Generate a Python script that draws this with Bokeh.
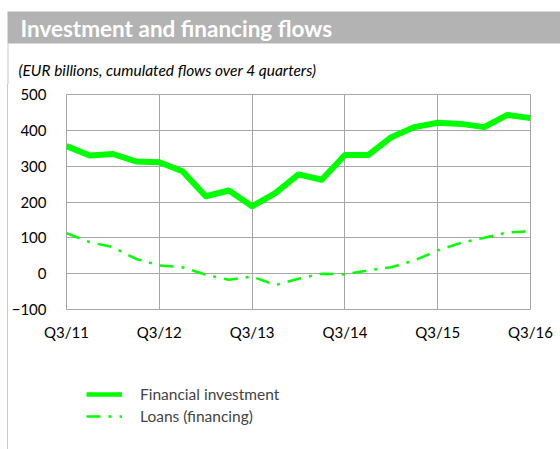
from bokeh.plotting import figure
from bokeh.layouts import column
from bokeh.models import FixedTicker, BoxAnnotation, Label, Legend, LegendItem, Range1d
from bokeh.embed import file_html
from bokeh.resources import INLINE

quarters = list(range(21))
quarter_labels = ["Q3/11", "Q3/12", "Q3/13", "Q3/14", "Q3/15", "Q3/16"]
financial_investment = [356, 330, 334, 313, 311, 286, 216, 232, 188, 225, 277,
                        262, 331, 331, 381, 409, 421, 418, 409, 443, 434]
loans = [113, 88, 74, 41, 23, 18, -3, -17, -8, -32, -14,
         0, -2, 9, 18, 37, 65, 86, 100, 115, 118]
y_ticks = [-100, 0, 100, 200, 300, 400, 500]
series_names = ["Financial investment", "Loans (financing)"]

FONT = "Lato"
GREEN = "#00ff00"
GRID = "#a6a6a6"
EDGE = "#c8c8c8"
DASH = "14 8 3 8"
W = 552
INDENT = 8


def blank(width, height):
    f = figure(width=width, height=height, output_backend="svg", toolbar_location=None,
               x_range=Range1d(0, width), y_range=Range1d(0, height),
               x_axis_location=None, y_axis_location=None,
               min_border=0, min_border_left=0, min_border_right=0,
               min_border_top=0, min_border_bottom=0)
    f.frame_align = False
    f.grid.visible = False
    f.outline_line_color = None
    f.background_fill_color = "white"
    f.border_fill_color = "white"
    return f


# ---------- header ----------
HA = 84
head = blank(W + INDENT, HA)
head.add_layout(BoxAnnotation(left=7, right=W + INDENT, bottom=HA - 43, top=HA - 11,
                              fill_color="#b3b3b3", fill_alpha=1, line_color=None))
head.add_layout(BoxAnnotation(left=7, right=8, bottom=0, top=HA - 43,
                              fill_color=EDGE, fill_alpha=1, line_color=None))
head.add_layout(Label(x=20, y=HA - 28, text="Investment and financing flows",
                      text_font=FONT, text_font_style="bold", text_font_size="22.5px",
                      text_color="white", text_baseline="middle"))
head.add_layout(Label(x=18, y=HA - 69, text="(EUR billions, cumulated flows over 4 quarters)",
                      text_font=FONT, text_font_style="italic", text_font_size="15.5px",
                      text_color="black", text_baseline="middle"))

# ---------- chart ----------
p = figure(width=W, height=265, output_backend="svg", toolbar_location=None,
           x_range=Range1d(0, 20), y_range=Range1d(-100, 500),
           min_border_left=50, min_border_right=30, min_border_top=10, min_border_bottom=40)
p.frame_align = False
p.margin = (0, 0, 0, INDENT)
p.background_fill_color = "white"
p.border_fill_color = "white"
p.outline_line_color = GRID
p.outline_line_width = 1
p.styles = {"box-shadow": "-1px 0 0 " + EDGE}

p.line(quarters, financial_investment, line_color=GREEN, line_width=6, line_join="round")
p.line(quarters, loans, line_color=GREEN, line_width=2.5, line_dash=DASH)

grid_ticks = [4 * k for k in range(len(quarter_labels))]
p.xgrid.ticker = FixedTicker(ticks=grid_ticks)
p.ygrid.ticker = FixedTicker(ticks=y_ticks)
for g in (p.xgrid, p.ygrid):
    g.grid_line_color = GRID
    g.grid_line_width = 1

p.xaxis.ticker = FixedTicker(ticks=grid_ticks)
p.xaxis.major_label_overrides = {t: lab for t, lab in zip(grid_ticks, quarter_labels)}
p.yaxis.ticker = FixedTicker(ticks=y_ticks)
for ax in (p.xaxis, p.yaxis):
    ax.axis_line_color = None
    ax.major_tick_line_color = None
    ax.minor_tick_line_color = None
    ax.major_label_text_font = FONT
    ax.major_label_text_font_size = "15px"
    ax.major_label_text_color = "black"
p.xaxis.major_label_standoff = 7
p.yaxis.major_label_standoff = 14

# ---------- legend ----------
HL = 100
leg = blank(W, HL)
leg.margin = (0, 0, 0, INDENT)
leg.styles = {"box-shadow": "-1px 0 0 " + EDGE}
leg.extra_y_ranges = {"hidden": Range1d(10000, 10001)}
g1 = leg.line(quarters, financial_investment, y_range_name="hidden",
              line_color=GREEN, line_width=4.5)
g2 = leg.line(quarters, loans, y_range_name="hidden",
              line_color=GREEN, line_width=2.5, line_dash=DASH)
legend = Legend(items=[LegendItem(label=series_names[0], renderers=[g1]),
                       LegendItem(label=series_names[1], renderers=[g2])],
                location=(78, 24), orientation="vertical",
                background_fill_alpha=0, border_line_color=None,
                label_text_font=FONT, label_text_font_size="15.5px",
                glyph_width=36, glyph_height=18, label_standoff=18,
                spacing=4, padding=0, margin=0)
leg.add_layout(legend, "center")

page = column(head, p, leg, spacing=0)
open("out.html", "w").write(file_html(page, INLINE))
